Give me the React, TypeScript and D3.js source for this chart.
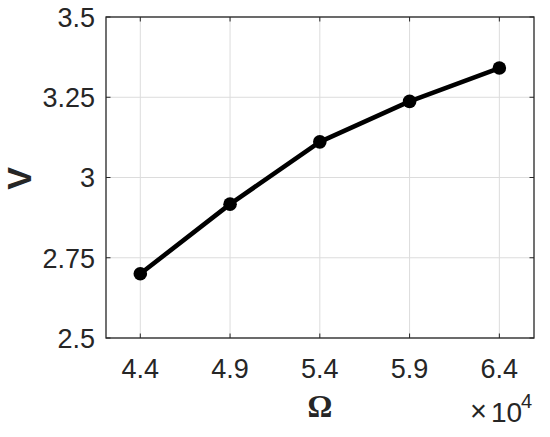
import React from "react";
import * as d3 from "d3";

const omegaVals = [4.4, 4.9, 5.4, 5.9, 6.4];
const vVals = [2.7, 2.917, 3.111, 3.237, 3.341];
const xTicks = [4.4, 4.9, 5.4, 5.9, 6.4];
const yTicks = [2.5, 2.75, 3, 3.25, 3.5];
const yTickLabels = ["2.5", "2.75", "3", "3.25", "3.5"];

const W = 550, H = 437;
const L = 106, R = 534, T = 17, B = 338;
const axisColor = "#262626";
const font = "'Liberation Sans', Arial, Helvetica, sans-serif";

export default function App() {
  const x = d3.scaleLinear().domain([4.209, 6.593]).range([L, R]);
  const y = d3.scaleLinear().domain([2.5, 3.5]).range([B, T]);
  const line = d3.line<number>().x((_, i) => x(omegaVals[i])).y((d) => y(d));
  const tl = 4.5;
  return (
    <svg width={W} height={H} style={{ position: "absolute", left: 0, top: 0, background: "#fff" }}>
      <rect x={0} y={0} width={W} height={H} fill="#fff" />
      {xTicks.map((t) => (
        <line key={"gx" + t} x1={x(t)} x2={x(t)} y1={T} y2={B} stroke="#dcdcdc" strokeWidth={1} />
      ))}
      {yTicks.map((t) => (
        <line key={"gy" + t} x1={L} x2={R} y1={y(t)} y2={y(t)} stroke="#dcdcdc" strokeWidth={1} />
      ))}
      {xTicks.map((t) => (
        <g key={"tx" + t}>
          <line x1={x(t)} x2={x(t)} y1={B} y2={B - tl} stroke={axisColor} />
          <line x1={x(t)} x2={x(t)} y1={T} y2={T + tl} stroke={axisColor} />
          <text x={x(t)} y={377.5} textAnchor="middle" fontFamily={font} fontSize={27} fill={axisColor}>
            {t.toFixed(1)}
          </text>
        </g>
      ))}
      {yTicks.map((t, i) => (
        <g key={"ty" + t}>
          <line x1={L} x2={L + tl} y1={y(t)} y2={y(t)} stroke={axisColor} />
          <line x1={R} x2={R - tl} y1={y(t)} y2={y(t)} stroke={axisColor} />
          <text x={95} y={y(t) + 9.8} textAnchor="end" fontFamily={font} fontSize={27} fill={axisColor}>
            {yTickLabels[i]}
          </text>
        </g>
      ))}
      <rect x={L} y={T} width={R - L} height={B - T} fill="none" stroke={axisColor} strokeWidth={1.3} />
      <path d={line(vVals) || ""} fill="none" stroke="#000" strokeWidth={4.6} strokeLinejoin="round" />
      {vVals.map((v, i) => (
        <circle key={"p" + i} cx={x(omegaVals[i])} cy={y(v)} r={6.8} fill="#000" />
      ))}
      <text x={320} y={417} textAnchor="middle" fontFamily="'Liberation Serif', 'Times New Roman', serif" fontSize={31} fontWeight="bold" fill={axisColor}>
        Ω
      </text>
      <text x={470} y={421} fontFamily={font} fontSize={29} fill={axisColor}>×</text>
      <text x={491} y={422} fontFamily={font} fontSize={28} fill={axisColor}>10</text>
      <text x={521} y={408} fontFamily={font} fontSize={20} fill={axisColor}>4</text>
      <text transform={`translate(31,178.5) rotate(-90)`} textAnchor="middle" fontFamily={font} fontSize={34} fontWeight="bold" fill={axisColor}>
        V
      </text>
    </svg>
  );
}
